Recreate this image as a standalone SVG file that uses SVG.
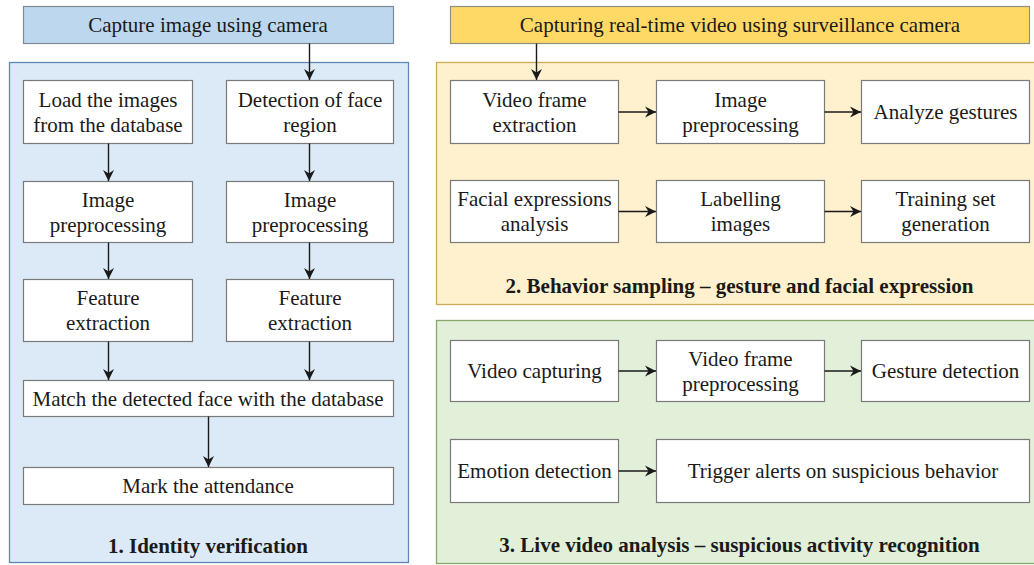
<svg xmlns="http://www.w3.org/2000/svg" width="1034" height="565" viewBox="0 0 1034 565">
<defs>
<style>
text{font-family:"Liberation Serif","Times New Roman",serif;font-size:21px;fill:#1a1a1a;text-anchor:middle}
.t{font-weight:bold}
.box{fill:#ffffff;stroke:#7a7a7a;stroke-width:1.2}
.e{stroke:#1a1a1a;stroke-width:1.4;fill:none;marker-end:url(#arr)}
</style>
<marker id="arr" markerWidth="12" markerHeight="12" refX="11" refY="6" orient="auto" markerUnits="userSpaceOnUse">
<path d="M0,0.5 L11,6 L0,11.5 L3.5,6 z" fill="#1a1a1a"/>
</marker>
</defs>
<rect width="1034" height="565" fill="#ffffff"/>

<g id="panel1">
<rect x="9.5" y="62.5" width="399" height="500" fill="#dce9f6" stroke="#5f87b8" stroke-width="1.3"/>
<text class="t" x="208" y="553">1. Identity verification</text>
</g>
<g id="panel2">
<rect x="436.5" y="62.5" width="605" height="242" fill="#fff1cd" stroke="#c9ab58" stroke-width="1.3"/>
<text class="t" x="739.5" y="293">2. Behavior sampling – gesture and facial expression</text>
</g>
<g id="panel3">
<rect x="436.5" y="320.5" width="605" height="243" fill="#e2efd9" stroke="#86a96c" stroke-width="1.3"/>
<text class="t" x="739.5" y="552">3. Live video analysis – suspicious activity recognition</text>
</g>

<g id="header1">
<rect x="23.5" y="6.5" width="370" height="37" fill="#bdd7ee" stroke="#7f8a96" stroke-width="1.2"/>
<text x="208" y="32">Capture image using camera</text>
</g>
<g id="header2">
<rect x="450.5" y="6.5" width="579" height="37" fill="#ffd966" stroke="#8f8f80" stroke-width="1.2"/>
<text x="740" y="32">Capturing real-time video using surveillance camera</text>
</g>

<g id="load">
<rect class="box" x="23.5" y="80.5" width="169" height="63"/>
<text x="108" y="107">Load the images</text>
<text x="108" y="132">from the database</text>
</g>
<g id="detect">
<rect class="box" x="226.5" y="80.5" width="167" height="63"/>
<text x="310" y="107">Detection of face</text>
<text x="310" y="132">region</text>
</g>
<g id="prep1">
<rect class="box" x="23.5" y="181.5" width="169" height="61"/>
<text x="108" y="207">Image</text>
<text x="108" y="232">preprocessing</text>
</g>
<g id="prep2">
<rect class="box" x="226.5" y="181.5" width="167" height="61"/>
<text x="310" y="207">Image</text>
<text x="310" y="232">preprocessing</text>
</g>
<g id="feat1">
<rect class="box" x="23.5" y="279.5" width="169" height="62"/>
<text x="108" y="305">Feature</text>
<text x="108" y="330">extraction</text>
</g>
<g id="feat2">
<rect class="box" x="226.5" y="279.5" width="167" height="62"/>
<text x="310" y="305">Feature</text>
<text x="310" y="330">extraction</text>
</g>
<g id="match">
<rect class="box" x="23.5" y="380.5" width="370" height="36"/>
<text x="208" y="406">Match the detected face with the database</text>
</g>
<g id="mark">
<rect class="box" x="23.5" y="467.5" width="370" height="37"/>
<text x="208" y="493">Mark the attendance</text>
</g>

<g id="vfe">
<rect class="box" x="450.5" y="80.5" width="168" height="63"/>
<text x="534.5" y="107">Video frame</text>
<text x="534.5" y="132">extraction</text>
</g>
<g id="imgprep">
<rect class="box" x="656.5" y="80.5" width="168" height="63"/>
<text x="740.5" y="107">Image</text>
<text x="740.5" y="132">preprocessing</text>
</g>
<g id="gestures">
<rect class="box" x="861.5" y="80.5" width="168" height="63"/>
<text x="945.5" y="119">Analyze gestures</text>
</g>
<g id="facial">
<rect class="box" x="450.5" y="180.5" width="168" height="62"/>
<text x="534.5" y="206">Facial expressions</text>
<text x="534.5" y="231">analysis</text>
</g>
<g id="label">
<rect class="box" x="656.5" y="180.5" width="168" height="62"/>
<text x="740.5" y="206">Labelling</text>
<text x="740.5" y="231">images</text>
</g>
<g id="training">
<rect class="box" x="861.5" y="180.5" width="168" height="62"/>
<text x="945.5" y="206">Training set</text>
<text x="945.5" y="231">generation</text>
</g>

<g id="vcap">
<rect class="box" x="450.5" y="340.5" width="168" height="61"/>
<text x="534.5" y="378">Video capturing</text>
</g>
<g id="vfp">
<rect class="box" x="656.5" y="340.5" width="168" height="61"/>
<text x="740.5" y="366">Video frame</text>
<text x="740.5" y="391">preprocessing</text>
</g>
<g id="gdet">
<rect class="box" x="861.5" y="340.5" width="168" height="61"/>
<text x="945.5" y="378">Gesture detection</text>
</g>
<g id="emo">
<rect class="box" x="450.5" y="439.5" width="168" height="63"/>
<text x="534.5" y="478">Emotion detection</text>
</g>
<g id="trigger">
<rect class="box" x="656.5" y="439.5" width="373" height="63"/>
<text x="843" y="478">Trigger alerts on suspicious behavior</text>
</g>

<g id="connectors">
<line class="e" x1="309.5" y1="43.5" x2="309.5" y2="80"/>
<line class="e" x1="108.5" y1="143.5" x2="108.5" y2="181"/>
<line class="e" x1="309.5" y1="143.5" x2="309.5" y2="181"/>
<line class="e" x1="108.5" y1="242.5" x2="108.5" y2="279"/>
<line class="e" x1="309.5" y1="242.5" x2="309.5" y2="279"/>
<line class="e" x1="108.5" y1="341.5" x2="108.5" y2="380"/>
<line class="e" x1="309.5" y1="341.5" x2="309.5" y2="380"/>
<line class="e" x1="208.5" y1="416.5" x2="208.5" y2="467"/>
<line class="e" x1="536.5" y1="43.5" x2="536.5" y2="80"/>
<line class="e" x1="618.5" y1="112" x2="656" y2="112"/>
<line class="e" x1="824.5" y1="112" x2="861" y2="112"/>
<line class="e" x1="618.5" y1="211.5" x2="656" y2="211.5"/>
<line class="e" x1="824.5" y1="211.5" x2="861" y2="211.5"/>
<line class="e" x1="618.5" y1="371" x2="656" y2="371"/>
<line class="e" x1="824.5" y1="371" x2="861" y2="371"/>
<line class="e" x1="618.5" y1="471" x2="656" y2="471"/>
</g>
</svg>
